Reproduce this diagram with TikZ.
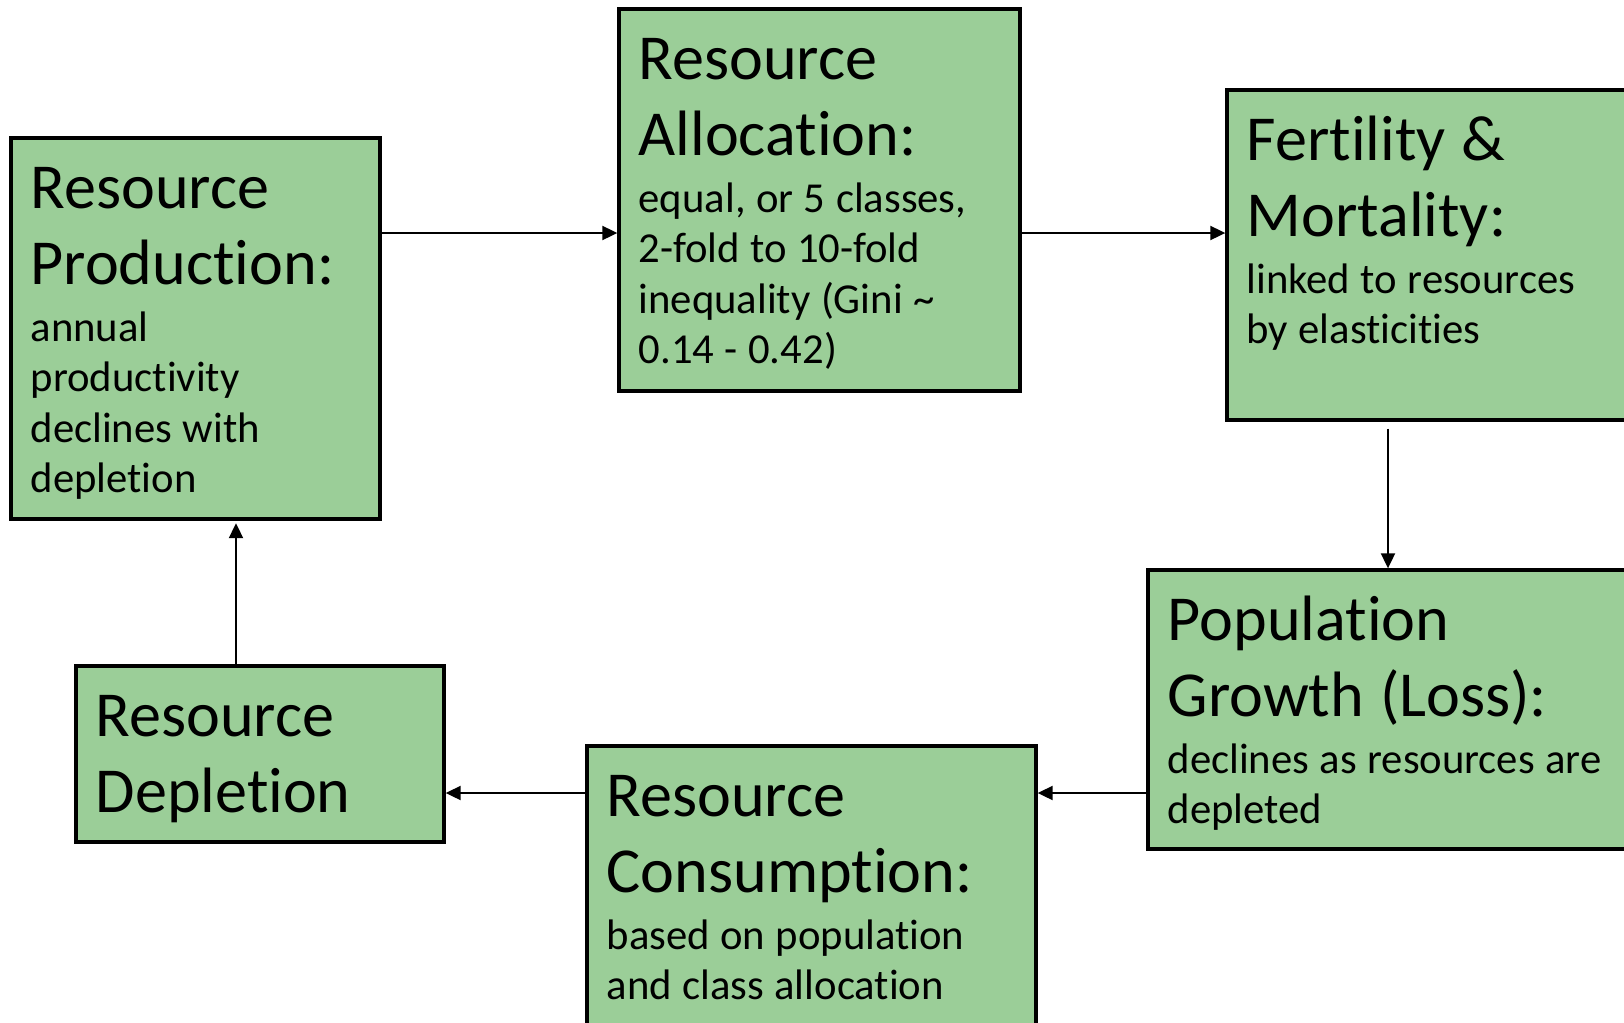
\documentclass[tikz,border=0pt]{standalone}
\usepackage{fontspec}
\setmainfont{Carlito}[Ligatures=NoCommon]
\usetikzlibrary{arrows.meta,fit}

\definecolor{boxgreen}{HTML}{9BCE98}

\newcommand{\boxhead}[1]{{\fontsize{36.5}{43}\selectfont\spaceskip=0.25em plus 0.1em #1\par}\vspace{3.5pt}}
\newcommand{\boxbody}[1]{{\fontsize{24.3}{28.8}\selectfont\spaceskip=0.245em plus 0.1em #1\par}}

\begin{document}
\begin{tikzpicture}[x=0.02cm, y=-0.02cm,
        blk/.style={draw=black, line width=1.9pt, fill=boxgreen, inner sep=0pt},
        txt/.style={anchor=base west, inner sep=0pt, text width=9.5cm, align=left},
        arr/.style={line width=1.1pt, -{Triangle[length=0.3cm, width=0.28cm]}}]
        \useasboundingbox (0,0) rectangle (1624,1022);
        \clip (0,0) rectangle (1624,1022);

        % boxes
        \node[blk, fit={(11,138) (380,519)}] (prod) {};
        \node[blk, fit={(619,9) (1020,391)}] (alloc) {};
        \node[blk, fit={(1227,90) (1670,420)}] (fert) {};
        \node[blk, fit={(1148,570) (1670,849)}] (pop) {};
        \node[blk, fit={(587,746) (1036,1070)}] (cons) {};
        \node[blk, fit={(76,666) (444,842)}] (depl) {};

        % texts
        \node[txt] (prodtxt) at ([shift={(21,72.5)}]prod.north west)
            {\boxhead{Resource\\Production:}\boxbody{annual\\productivity\\declines with\\depletion}};
        \node[txt] (alloctxt) at ([shift={(21,72.5)}]alloc.north west)
            {\boxhead{Resource\\Allocation:}\boxbody{equal, or 5 classes,\\2-fold to 10-fold\\inequality (Gini \textasciitilde\\0.14 - 0.42)}};
        \node[txt] (ferttxt) at ([shift={(21,72.5)}]fert.north west)
            {\boxhead{Fertility \&\\Mortality:}\boxbody{linked to resources\\by elasticities}};
        \node[txt] (poptxt) at ([shift={(21,72.5)}]pop.north west)
            {\boxhead{Population\\Growth (Loss):}\boxbody{declines as resources are\\depleted}};
        \node[txt] (constxt) at ([shift={(21,72.5)}]cons.north west)
            {\boxhead{Resource\\Consumption:}\boxbody{based on population\\and class allocation}};
        \node[txt] (depltxt) at ([shift={(21,72.5)}]depl.north west)
            {\boxhead{Resource\\Depletion}};

        % arrows
        \coordinate (row1) at (0,233);
        \coordinate (row2) at (0,793);
        \coordinate (col1) at (1388,0);
        \coordinate (col2) at (236,0);

        \draw[arr] (prod.east |- row1) -- (alloc.west |- row1);
        \draw[arr] (alloc.east |- row1) -- (fert.west |- row1);
        \draw[arr, shorten <=0.14cm] (fert.south -| col1) -- (pop.north -| col1);
        \draw[arr] (pop.west |- row2) -- (cons.east |- row2);
        \draw[arr] (cons.west |- row2) -- (depl.east |- row2);
        \draw[arr, shorten >=0.05cm] (depl.north -| col2) -- (prod.south -| col2);

    \end{tikzpicture}
\end{document}
